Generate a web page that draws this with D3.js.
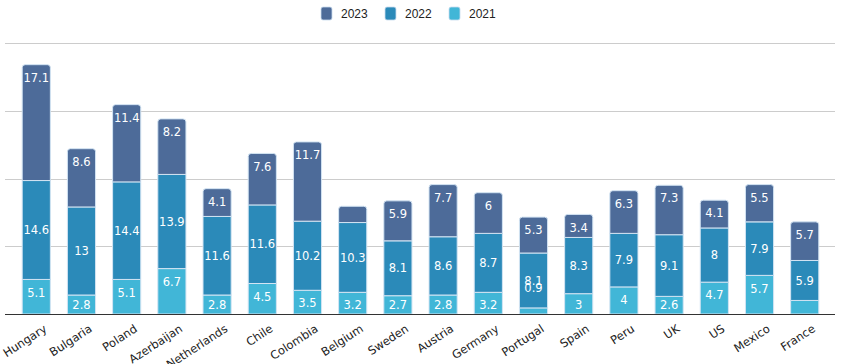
<!DOCTYPE html>
<html>
<head>
<meta charset="utf-8">
<script src="https://cdn.jsdelivr.net/npm/d3@7"></script>
<style>
  html, body { margin: 0; padding: 0; background: #fff; }
  svg { display: block; }
</style>
</head>
<body>
<svg id="chart" width="841" height="364"></svg>
<script>
// ---- Data ----
const categories = ["Hungary","Bulgaria","Poland","Azerbaijan","Netherlands","Chile","Colombia","Belgium","Sweden","Austria","Germany","Portugal","Spain","Peru","UK","US","Mexico","France"];
const seriesNames = ["2021","2022","2023"];
const values2021 = [5.1, 2.8, 5.1, 6.7, 2.8, 4.5, 3.5, 3.2, 2.7, 2.8, 3.2, 0.9, 3, 4, 2.6, 4.7, 5.7, 2.0];
const values2022 = [14.6, 13, 14.4, 13.9, 11.6, 11.6, 10.2, 10.3, 8.1, 8.6, 8.7, 8.1, 8.3, 7.9, 9.1, 8, 7.9, 5.9];
const values2023 = [17.1, 8.6, 11.4, 8.2, 4.1, 7.6, 11.7, 2.4, 5.9, 7.7, 6, 5.3, 3.4, 6.3, 7.3, 4.1, 5.5, 5.7];
const yTicks = [0, 10, 20, 30, 40];
const legendOrder = ["2023","2022","2021"];
const colors = { "2021": "#41b6d7", "2022": "#2b8ab9", "2023": "#4d6b99" };

// ---- Layout ----
const svg = d3.select("#chart");
const gridLeft = 5, gridRight = 835;
const x = d3.scaleBand().domain(categories).range([13.7, 827.3]).paddingInner(0.355).paddingOuter(0.177);
const y = d3.scaleLinear().domain([0, 40]).range([314, 43]);

// gridlines
svg.append("g").selectAll("line").data(yTicks.filter(d => d > 0)).join("line")
  .attr("x1", gridLeft).attr("x2", gridRight)
  .attr("y1", d => Math.round(y(d)) + 0.5).attr("y2", d => Math.round(y(d)) + 0.5)
  .attr("stroke", "#cccccc").attr("stroke-width", 1);

// stack
const rows = categories.map((c, i) => ({ cat: c, "2021": values2021[i], "2022": values2022[i], "2023": values2023[i] }));
const stack = d3.stack().keys(seriesNames)(rows);

const bw = x.bandwidth();
const r = 3;
function segPath(x0, yTop, w, h, rounded) {
  if (!rounded) return `M${x0},${yTop}h${w}v${h}h${-w}Z`;
  return `M${x0},${yTop + h}V${yTop + r}Q${x0},${yTop} ${x0 + r},${yTop}H${x0 + w - r}Q${x0 + w},${yTop} ${x0 + w},${yTop + r}V${yTop + h}Z`;
}

const gBars = svg.append("g");
stack.forEach((layer, li) => {
  const key = layer.key;
  const isTop = li === stack.length - 1;
  gBars.append("g").selectAll("path").data(layer).join("path")
    .attr("d", d => {
      const x0 = x(d.data.cat) + 0.5;
      const yT = y(d[1]);
      const h = y(d[0]) - y(d[1]);
      return segPath(x0, yT, bw - 1, h, isTop);
    })
    .attr("fill", colors[key])
    .attr("stroke", "#d3e4f3").attr("stroke-width", 1);
});

// data labels
const gLab = svg.append("g").attr("font-family", "DejaVu Sans, Verdana, sans-serif").attr("font-size", 11.5).attr("fill", "#ffffff").attr("text-anchor", "middle");
stack.forEach((layer, li) => {
  const key = layer.key;
  layer.forEach(d => {
    const v = d[1] - d[0];
    const yT = y(d[1]), yB = y(d[0]);
    const h = yB - yT;
    if (h > 8 && h < 17) return; // hidden (overlap)
    let cy;
    if (key === "2022") cy = (yT + yB) / 2;
    else cy = Math.min(yT + 13, yB - 9);
    if (h <= 8) cy = yT - 20;
    gLab.append("text")
      .attr("x", x(d.data.cat) + bw / 2)
      .attr("y", cy)
      .attr("dy", "0.36em")
      .text(d3.format("")(+v.toFixed(1)));
  });
});

// baseline axis
svg.append("line").attr("x1", gridLeft).attr("x2", gridRight)
  .attr("y1", 314.5).attr("y2", 314.5).attr("stroke", "#333").attr("stroke-width", 1);

// x labels
svg.append("g").selectAll("text").data(categories).join("text")
  .attr("transform", d => `translate(${x(d) + bw / 2 + 7},${324}) rotate(-33)`)
  .attr("text-anchor", "end")
  .attr("dy", "0.7em")
  .attr("font-family", "DejaVu Sans, Verdana, sans-serif")
  .attr("font-size", 11.5)
  .attr("fill", "#222")
  .text(d => d);

// legend
const legX = [321, 385, 449];
const leg = svg.append("g");
legendOrder.forEach((k, i) => {
  leg.append("rect").attr("x", legX[i]).attr("y", 7).attr("width", 11).attr("height", 13).attr("rx", 2)
    .attr("fill", colors[k]).attr("stroke", "#c9dcef").attr("stroke-width", 0.8);
  leg.append("text").attr("x", legX[i] + 20).attr("y", 18)
    .attr("font-family", "Liberation Sans, Arial, sans-serif").attr("font-size", 12).attr("fill", "#222")
    .text(k);
});
</script>
</body>
</html>
